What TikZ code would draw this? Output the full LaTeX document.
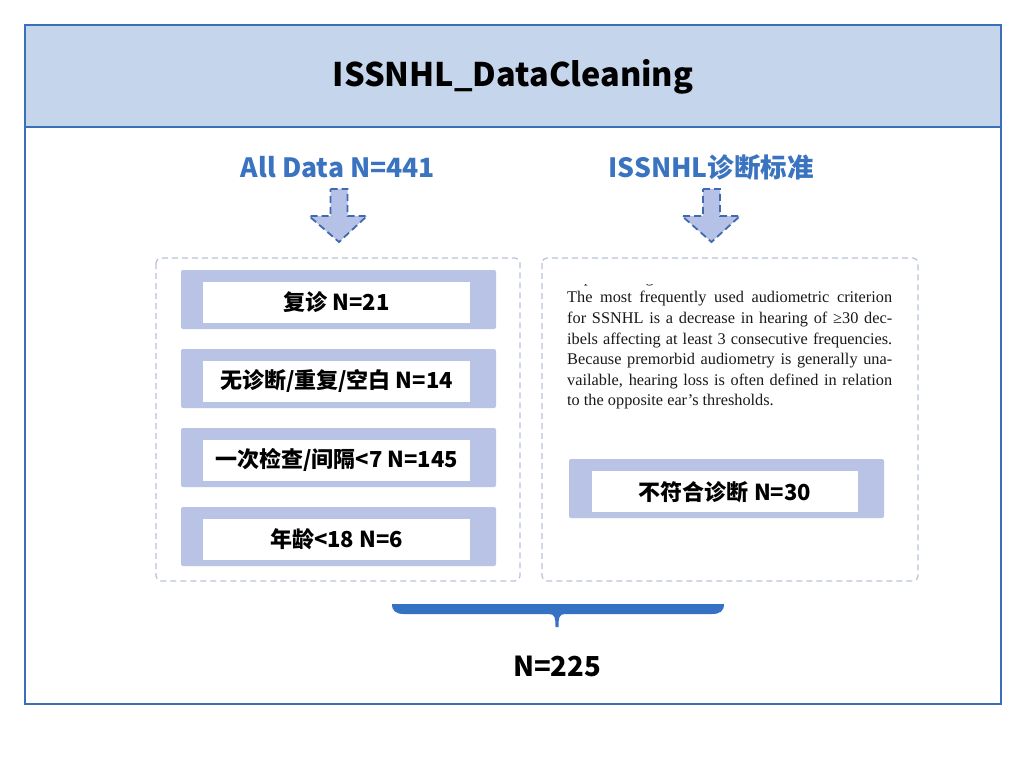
\documentclass[tikz,border=0pt]{standalone}
\usepackage{fontspec}
\newfontfamily\cjk{Noto Sans CJK SC}
\newfontfamily\serif{Liberation Serif}
\definecolor{frameblue}{HTML}{3A70B8}
\definecolor{headfill}{HTML}{C5D5EC}
\definecolor{lav}{HTML}{B9C3E6}
\definecolor{dashgray}{HTML}{B7C2D8}
\definecolor{arrowfill}{HTML}{B6C1E8}
\definecolor{arrowline}{HTML}{3F6BAE}
\definecolor{titleblue}{HTML}{3A74C0}
\definecolor{bracefill}{HTML}{3672C4}
\tikzset{
  groupbox/.style={draw=dashgray, line width=1.2pt, rounded corners=5pt, dash pattern=on 6pt off 4pt},
  itemouter/.style={fill=lav, rounded corners=2pt},
  itemin/.style={fill=white},
  itemtext/.style={font=\cjk\bfseries\fontsize{22}{24}\selectfont, text=black},
  headtext/.style={font=\cjk\bfseries\fontsize{26.5}{30}\selectfont, text=titleblue},
  paratext/.style={anchor=west, font=\serif\fontsize{16.3}{18}\selectfont, inner sep=0pt, text=black!90},
  downarrow/.style={fill=arrowfill, draw=arrowline, line width=1.8pt, dash pattern=on 7pt off 4pt, line join=miter},
}
\begin{document}
\begin{tikzpicture}[x=1pt,y=-1pt]
\useasboundingbox (0,0) rectangle (1026,781);
\fill[white] (0,0) rectangle (1026,781);
% header
\fill[headfill] (25,25) rectangle (1001,127);
\draw[frameblue, line width=2pt] (25,25) rectangle (1001,704);
\draw[frameblue, line width=2pt] (25,127) -- (1001,127);
\node[font=\cjk\bfseries\fontsize{32.5}{36}\selectfont] (title) at (513,77) {ISSNHL\_DataCleaning};
% column heads
\node[headtext] (alldata) at (338,167) {All Data N=441};
\node[headtext] (criteria) at (711,167) {ISSNHL诊断标准};
% arrows
\draw[downarrow] (330.5,189) -- (347.5,189) -- (347.5,216) -- (367,216) -- (339,242) -- (309,216) -- (330.5,216) -- cycle;
\draw[downarrow] (703,189) -- (720,189) -- (720,216) -- (740,216) -- (711.5,242) -- (682,216) -- (703,216) -- cycle;
% group boxes
\draw[groupbox] (156,258) rectangle (520,581);
\draw[groupbox] (542,258) rectangle (918,581);
% left items
\foreach \y/\t/\n in {270/{复诊 N=21}/i1, 349/{无诊断/重复/空白 N=14}/i2, 428/{一次检查/间隔<7 N=145}/i3, 507/{年龄<18 N=6}/i4}{
  \fill[itemouter] (181,\y) rectangle (496,\y+59);
  \fill[itemin] (203,\y+12) rectangle (470,\y+53);
  \node[itemtext] (\n) at (336.5,\y+32) {\t};
}
% right item
\fill[itemouter] (569,459) rectangle (884,518);
\fill[itemin] (592,471) rectangle (858,512);
\node[itemtext] (r1) at (725,492) {不符合诊断 N=30};
% paragraph
\begin{scope}
\clip (560,284) rectangle (900,420);
\node[paratext] (ptop) at (567,279) {\hbox to 325pt{to processing.\hfil}};
\end{scope}
\foreach \i/\l in {0/{The most frequently used audiometric criterion},
                  1/{for SSNHL is a decrease in hearing of ≥30 dec-},
                  2/{ibels affecting at least 3 consecutive frequencies.},
                  3/{Because premorbid audiometry is generally una-},
                  4/{vailable, hearing loss is often defined in relation}}{
  \node[paratext] (p\i) at (567,299+20.6*\i) {\makebox[325pt][s]{\l}};
}
\node[paratext] (p5) at (567,402) {to the opposite ear’s thresholds.};
% brace
\fill[bracefill] (392,604) -- (724,604) .. controls (724,611) and (720,614) .. (712,614) -- (565,614) .. controls (559,614) and (558.5,618) .. (558.5,627) -- (555.5,627) .. controls (555.5,618) and (555,614) .. (549,614) -- (404,614) .. controls (396,614) and (392,611) .. (392,604) -- cycle;
\node[font=\cjk\bfseries\fontsize{27.5}{30}\selectfont] (total) at (557,666) {N=225};
\end{tikzpicture}
\end{document}
